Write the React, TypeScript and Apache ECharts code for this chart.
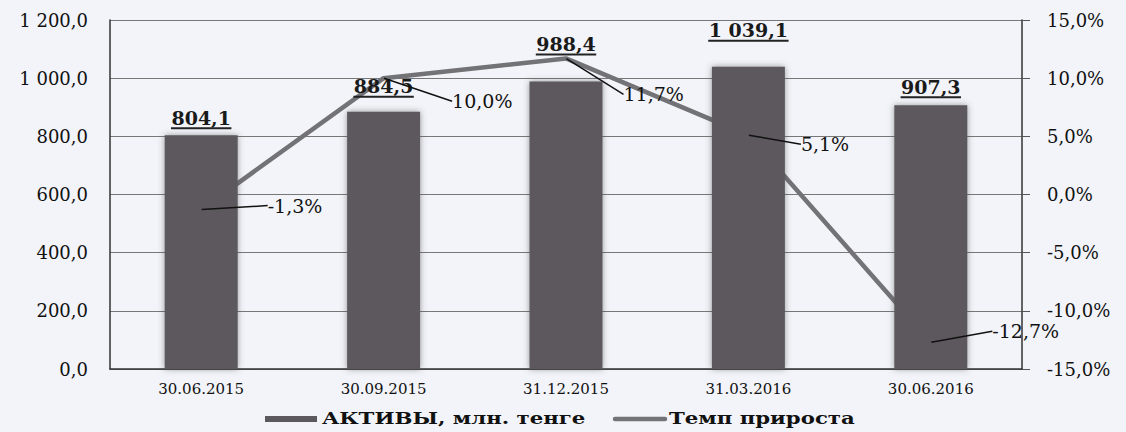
import React, { useEffect, useRef } from "react";
import * as echarts from "echarts";

const categories = ["30.06.2015", "30.09.2015", "31.12.2015", "31.03.2016", "30.06.2016"];
const assets = [804.1, 884.5, 988.4, 1039.1, 907.3];
const growth = [-1.3, 10.0, 11.7, 5.1, -12.7];
const leftTicks = { min: 0, max: 1200, interval: 200 };
const rightTicks = { min: -15, max: 15, interval: 5 };
const seriesNames = ["АКТИВЫ, млн. тенге", "Темп прироста"];

// label layout tweaks (style only)
const barLabelGap = [6, 14, 26, 25, 7];
const growthLabelShift = [
  [66, -4],
  [68, 23],
  [57, 36],
  [52, 9],
  [61, -11],
];

const FONT = "DejaVu Serif";
const BAR_COLOR = "#5b595d";
const LINE_COLOR = "#737276";

const fmtNum = (v: number) => {
  const [i, d] = v.toFixed(1).split(".");
  const ip = i.replace(/\B(?=(\d{3})+(?!\d))/g, " ");
  return `${ip},${d}`;
};
const fmtPct = (v: number) => `${v.toFixed(1).replace(".", ",")}%`;

const textWidth = (s: string, fs: number) => {
  let w = 0;
  for (const ch of s) {
    if (ch === ",") w += 0.38 * fs;
    else if (ch === " ") w += 0.35 * fs;
    else w += 0.7 * fs;
  }
  return w;
};

export default function App() {
  const ref = useRef<HTMLDivElement>(null);
  useEffect(() => {
    if (!ref.current) return;
    const chart = echarts.init(ref.current, null, { renderer: "svg" });
    const barFs = 19;
    const barData = assets.map((v, i) => {
      const txt = fmtNum(v);
      return {
        value: v,
        label: {
          distance: barLabelGap[i],
          formatter: `{v|${txt}}\n{u| }`,
          rich: {
            v: { fontFamily: FONT, fontWeight: "bold", fontSize: barFs, color: "#1a1a1a", lineHeight: 19 },
            u: { width: textWidth(txt, barFs), height: 2, lineHeight: 2, backgroundColor: "#222", fontSize: 2 },
          },
        },
      };
    });
    const legendFont = `bold 17px "${FONT}"`;
    chart.setOption({
      animation: false,
      backgroundColor: "#f2f4f9",
      grid: { left: 110, right: 104, top: 20, bottom: 63 },
      graphic: [
        { type: "rect", shape: { x: 265, y: 416, width: 52, height: 6 }, style: { fill: BAR_COLOR } },
        {
          type: "text",
          x: 322,
          y: 418,
          scaleX: 1.25,
          style: { text: seriesNames[0], font: legendFont, fill: "#111", verticalAlign: "middle" },
        },
        {
          type: "line",
          shape: { x1: 615, y1: 419, x2: 665, y2: 419 },
          style: { stroke: LINE_COLOR, lineWidth: 4.5, lineCap: "round" },
        },
        {
          type: "text",
          x: 669,
          y: 418,
          scaleX: 1.25,
          style: { text: seriesNames[1], font: legendFont, fill: "#111", verticalAlign: "middle" },
        },
      ],
      xAxis: {
        type: "category",
        data: categories,
        axisLine: { lineStyle: { color: "#333", width: 1.5 } },
        axisTick: { show: false },
        axisLabel: { fontFamily: FONT, fontSize: 15, color: "#111", margin: 12 },
      },
      yAxis: [
        {
          type: "value",
          ...leftTicks,
          axisLine: { show: true, lineStyle: { color: "#333", width: 1.5 } },
          axisTick: { show: false },
          splitLine: { lineStyle: { color: "#777", width: 1 } },
          axisLabel: { fontFamily: FONT, fontSize: 18, color: "#111", margin: 22, formatter: (v: number) => fmtNum(v) },
        },
        {
          type: "value",
          ...rightTicks,
          position: "right",
          axisLine: { show: true, lineStyle: { color: "#333", width: 1.5 } },
          axisTick: { show: true, length: 8, lineStyle: { color: "#555" } },
          splitLine: { show: false },
          axisLabel: { fontFamily: FONT, fontSize: 18, color: "#111", margin: 25, formatter: (v: number) => fmtPct(v) },
        },
      ],
      series: [
        {
          name: seriesNames[1],
          type: "line",
          yAxisIndex: 1,
          data: growth,
          z: 1,
          symbol: "none",
          lineStyle: { color: LINE_COLOR, width: 4.5 },
          itemStyle: { color: LINE_COLOR },
        },
        {
          name: seriesNames[0],
          type: "bar",
          data: barData,
          z: 2,
          barWidth: "40%",
          itemStyle: {
            color: BAR_COLOR,
            shadowBlur: 6,
            shadowColor: "rgba(70,70,70,0.55)",
          },
          label: { show: true, position: "top" },
        },
        {
          name: "labels",
          type: "line",
          yAxisIndex: 1,
          data: growth,
          z: 3,
          symbol: "circle",
          symbolSize: 1,
          itemStyle: { color: "rgba(0,0,0,0)" },
          lineStyle: { opacity: 0 },
          label: {
            show: true,
            position: "right",
            distance: 0,
            fontFamily: FONT,
            fontSize: 19,
            color: "#111",
            formatter: (p: any) => fmtPct(p.value),
          },
          labelLine: { show: true, lineStyle: { color: "#111", width: 1.5 } },
          labelLayout: (p: any) => ({
            dx: growthLabelShift[p.dataIndex][0],
            dy: growthLabelShift[p.dataIndex][1],
          }),
        },
      ],
    });
    return () => chart.dispose();
  }, []);
  return (
    <div
      ref={ref}
      style={{ position: "absolute", left: 0, top: 0, width: 1126, height: 432 }}
    />
  );
}
